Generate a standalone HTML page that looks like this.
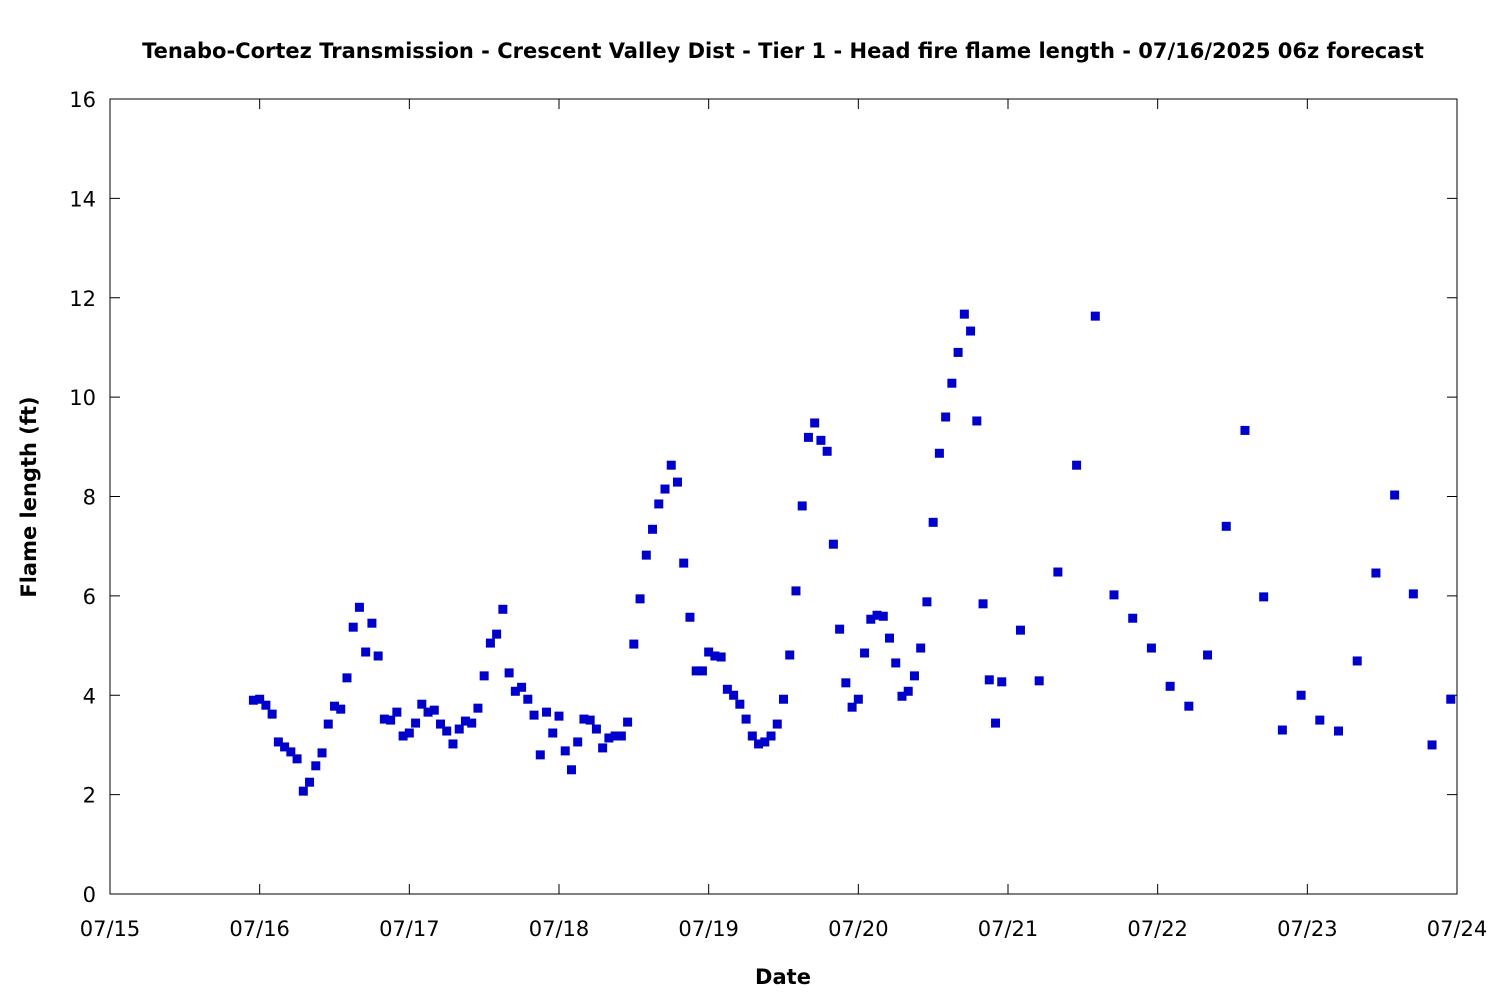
<!DOCTYPE html>
<html><head><meta charset="utf-8"><style>
body{margin:0;background:#fff}
svg{display:block;font-family:"DejaVu Sans","Liberation Sans","Noto Sans CJK JP",sans-serif}
</style></head><body>
<svg id="chart" width="1500" height="1000">
<text x="783" y="58" text-anchor="middle" font-size="21" font-weight="bold">Tenabo-Cortez Transmission - Crescent Valley Dist - Tier 1 - Head fire flame length - 07/16/2025 06z forecast</text>
<rect x="110" y="99" width="1347" height="795" fill="none" stroke="#000" stroke-width="1"/>
<g id="ticks"></g>
<g id="marks"></g>
<text x="783" y="984" text-anchor="middle" font-size="21" font-weight="bold">Date</text>
<text transform="translate(36,497) rotate(-90)" text-anchor="middle" font-size="21" font-weight="bold">Flame length (ft)</text>
</svg>
<script>
const xTickLabels=["07/15","07/16","07/17","07/18","07/19","07/20","07/21","07/22","07/23","07/24"];
const yTickLabels=["0","2","4","6","8","10","12","14","16"];
const hourlyStart=23;
const hourlyValues=[3.9,3.92,3.8,3.62,3.06,2.96,2.86,2.72,2.07,2.25,
2.58,2.84,3.42,3.78,3.72,4.35,5.37,5.77,4.87,5.45,
4.79,3.52,3.5,3.66,3.18,3.24,3.44,3.82,3.66,3.7,
3.42,3.28,3.02,3.32,3.48,3.44,3.74,4.39,5.05,5.23,
5.73,4.45,4.08,4.16,3.92,3.6,2.8,3.66,3.24,3.58,
2.88,2.5,3.06,3.52,3.5,3.32,2.94,3.14,3.18,3.18,
3.46,5.03,5.94,6.82,7.34,7.85,8.15,8.63,8.29,6.66,
5.57,4.49,4.49,4.87,4.79,4.77,4.12,4.0,3.82,3.52,
3.18,3.02,3.06,3.18,3.42,3.92,4.81,6.1,7.81,9.19,
9.48,9.13,8.91,7.04,5.33,4.25,3.76,3.92,4.85,5.53,
5.61,5.59,5.15,4.65,3.98,4.08,4.39,4.95,5.88,7.48,
8.87,9.6,10.28,10.9,11.67,11.33,9.52,5.84,4.31,3.44,
4.27];
const threeHourStart=146;
const threeHourValues=[5.31,4.29,6.48,8.63,11.63,6.02,5.55,4.95,4.18,3.78,4.81,7.4,9.33,5.98,3.3,4.0,3.5,3.28,4.69,6.46,8.03,6.04,3.0,3.92];

const X0=110,X1=1457,Y0=894,Y1=99;
const xScale=h=>X0+(X1-X0)*h/(9*24);
const yScale=v=>Y0-(Y0-Y1)*v/16;
const NS="http://www.w3.org/2000/svg";
const tg=document.getElementById('ticks'),mg=document.getElementById('marks');
function mk(tag,attrs,parent){const e=document.createElementNS(NS,tag);for(const k in attrs)e.setAttribute(k,attrs[k]);parent.appendChild(e);return e;}
xTickLabels.forEach((lab,i)=>{
  const x=xScale(i*24);
  const l1=mk('line',{x1:x,x2:x,y1:Y0,y2:Y0-10,stroke:'#000'},tg);
  
  
  const l2=mk('line',{x1:x,x2:x,y1:Y1,y2:Y1+10,stroke:'#000'},tg);
  
  
  const t=mk('text',{x:x,y:936,'text-anchor':'middle','font-size':'21'},tg);
  t.textContent=lab;
  
  
});
yTickLabels.forEach((lab,i)=>{
  const y=yScale(+lab);
  const l1=mk('line',{x1:X0,x2:X0+10,y1:y,y2:y,stroke:'#000'},tg);
  
  
  const l2=mk('line',{x1:X1,x2:X1-10,y1:y,y2:y,stroke:'#000'},tg);
  
  
  const t=mk('text',{x:96,y:y+8,'text-anchor':'end','font-size':'21'},tg);
  t.textContent=lab;
  
  
});
function point(h,v){
  const r=mk('rect',{x:xScale(h)-4.5,y:yScale(v)-4.5,width:9,height:9,fill:'#0000cc'},mg);
  
  
}
hourlyValues.forEach((v,i)=>point(hourlyStart+i,v));
threeHourValues.forEach((v,i)=>point(threeHourStart+3*i,v));
</script>
</body></html>
